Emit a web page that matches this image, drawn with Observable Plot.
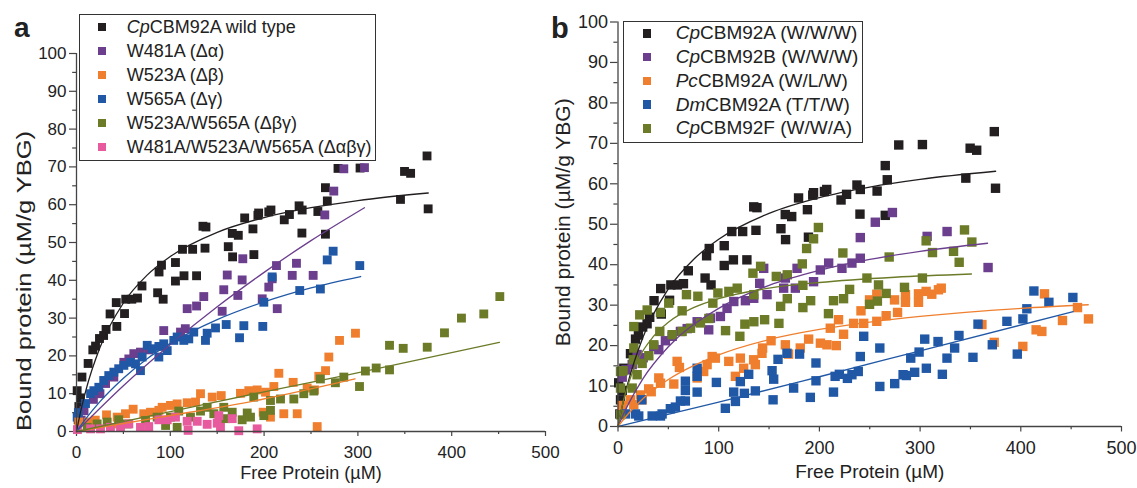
<!DOCTYPE html>
<html><head><meta charset="utf-8">
<script src="https://cdn.jsdelivr.net/npm/d3@7"></script>
<script src="https://cdn.jsdelivr.net/npm/@observablehq/plot@0.6"></script>
<style>
html,body{margin:0;padding:0;background:#fff;}
#page{position:relative;width:1137px;height:488px;overflow:hidden;font-family:"Liberation Sans",Arial,Helvetica,sans-serif;color:#222;}
.pn{position:absolute;top:0;}
.lg{position:absolute;border:1px solid #333;box-sizing:border-box;background:#fff;}
.row{position:absolute;white-space:nowrap;}
.sw{position:absolute;}
.letter{position:absolute;font-weight:bold;line-height:1;}
</style></head><body>
<div id="page"></div>
<script>
// ---------- data ----------
const xTicks = [0,100,200,300,400,500];
const xMinor = [50,150,250,350,450];
const yTicks = [0,10,20,30,40,50,60,70,80,90,100];
const yMinor = [5,15,25,35,45,55,65,75,85,95];
const labelX = "Free Protein (µM)";
const labelY = "Bound protein (µM/g YBG)";

// CpCBM92A wild type (W/W/W) – same data in both panels
const cpA = [[0.7,10.8],[1.8,3.1],[2.5,6.6],[4.2,8.9],[5.8,14.4],[12.4,18],[17.4,21.6],[20.3,22.6],[24.5,24.6],[28.9,25.4],[31.5,27],[35.8,31.1],[42.4,34.1],[43,27.8],[51.2,31.2],[52.5,35],[59,35],[65,35.3],[69.8,38.5],[86.5,36.7],[88,42.2],[90.6,44],[92.4,35],[105.5,39.8],[105.5,44.7],[114.6,41.2],[113,48.2],[123.8,48.2],[128,41.2],[134.8,54.3],[138,54.1],[137,48.5],[161.8,48.9],[166.1,52.4],[166.4,46.2],[172.5,51.9],[179.3,56.5],[188.1,53.6],[189.1,46.8],[193.4,57.2],[194.2,57.8],[205,58.1],[207.3,58.6],[221.5,56],[227,57.4],[237.3,59.7],[240.3,52.5],[240.6,58.6],[257.3,58.2],[265.4,64.5],[265.4,52.2],[267.4,61],[278.8,69.6],[302.3,69.7],[345.4,61.4],[349.7,68.8],[356.2,68.3],[373.7,72.9],[374.9,58.9]];
const w481A = [[5,3],[8,5.5],[18,8.5],[25,10],[31,12.7],[39.8,14.4],[50.5,18.3],[55.8,19.2],[61.1,20.6],[68.2,21],[77.1,21.6],[93,26.7],[110.9,26.3],[116,27.2],[118,32.5],[128,33.2],[135.7,35.7],[155.3,31.8],[157,37.5],[160.7,41.4],[172,36],[176.6,40.1],[177.3,45.7],[198,35.1],[205,38.2],[208.6,40.4],[213.2,43.9],[214,32.5],[230,41.3],[234.5,44.5],[252.3,41.3],[264.7,57.3],[274.3,63.6],[285,69.5],[307,69.8]];
const w565A = [[0.7,3.8],[2,5],[9.6,7.4],[15,10],[18.5,10.8],[23.8,11.7],[29,13.5],[34.4,14.8],[39.8,15.7],[45,16.6],[50.5,17.5],[57.6,18.3],[62.9,17.9],[68.2,16.1],[70,19.7],[75.4,22.8],[80.7,21.9],[87.8,19.7],[87.8,22.5],[93,23.2],[96.7,21.4],[103.7,24.1],[107.3,25],[114.4,24.1],[119.7,24.5],[125,26.3],[137.5,24.1],[139.3,26],[148.2,27.4],[159.6,28.3],[173.8,24.8],[178.4,28],[198.6,27.8],[199.7,34.2],[208.6,40.9],[238,37.3],[260,37.7],[267.3,45.4],[273.6,47.7],[302,43.9]];
const w523A = [[2.5,2.5],[13,2.5],[15,1.5],[20,3],[32,4.4],[43.4,3.8],[45,2],[52.2,4.7],[60.4,5.9],[71.7,4.7],[78.9,5.1],[87.8,5.6],[91.3,6.4],[100.2,6.9],[107.3,7.3],[118,7.6],[126.9,7.8],[132.2,10],[144.7,9.1],[154.3,9.5],[174.8,10.1],[183.7,10.8],[192.6,11],[199,5.1],[201.5,10.4],[206.8,3.8],[210.4,11.9],[215.7,15.4],[221,4.7],[231,13],[235.3,4.7],[245.9,11.5],[253.7,11],[256.6,1.3],[258.3,14.6],[265.5,16.1],[269,19.7],[280.4,24.1],[297.4,26]];
const w523w565A = [[11.4,1.1],[22,2],[32.7,2.5],[45,3.1],[54,2],[73.6,2.9],[86,3.8],[95,1.6],[100.2,3.8],[107.3,1.1],[109,5.4],[121.5,3.8],[132.2,5.4],[139.3,6.4],[146.4,4.7],[157,6.4],[158.8,3.4],[166,5.1],[176.6,3.1],[182,4.9],[185.5,3.8],[189,9.1],[199.7,4.2],[206.8,5.6],[206.8,8.2],[217.5,8.6],[231.7,8.6],[242.3,10],[253,10.7],[260,13.9],[276,12.9],[285,14.4],[301.7,11.9],[308,16],[319.5,16.8],[333.7,16.3],[333.7,22.8],[348.3,22],[373.9,22.3],[392.3,26.1],[410.4,30],[434.2,31.1],[451.3,35.7]];
const triple = [[1,0.5],[15,0.7],[25.6,0.7],[36.2,1.1],[46.9,1.3],[55.8,2],[68.2,1.1],[77,1.3],[87.8,3.1],[96.7,3.1],[105.5,3.8],[118,2.7],[119,0.3],[128.7,2.7],[139.3,1.9],[150,2.2],[151.7,4.2],[153.5,1.1],[166,3.4],[173,0.2],[192.6,0.7]];

const cpB = [[4.2,12.2],[8,14],[14.1,15.3],[19,17.8],[25,17],[35.5,19.8],[40.5,19],[47.1,21.2],[53.8,22.3],[62,23.5],[68.7,24.2],[78.6,25.9],[90.1,23.9],[91.8,26.8],[101.7,27.2],[108.3,29.2],[115,30.9],[126.5,31.1],[134.8,31.7],[140.7,35.4],[144.7,39.1],[148,32.6],[164.5,34.2],[166.2,36.7],[176.1,34.2],[177.8,39.1],[194.2,35.8],[200.9,38.7],[209.2,40.4],[222.4,39.1],[232.3,40.4],[240.6,41.6],[240.6,46.7],[255.5,50.5],[272.5,52.9],[307,47],[326.8,48.2],[367.5,39.3]];
const pcA = [[4.2,5.2],[12.4,6.6],[15.7,5.4],[22.3,7.8],[24,6.6],[30.5,9.3],[33,8.6],[40.5,12],[42.2,10.7],[55.4,10.5],[58.7,16.1],[61,14.6],[78.6,12],[85.1,13.6],[88.5,15.3],[93.5,17.3],[96.7,16.9],[110,16.1],[116.6,12.4],[121.5,16.9],[124.8,14.4],[134.7,16.5],[136.4,15.3],[143,18.1],[143.6,19.4],[152,21.2],[166.2,20.2],[169.4,17.9],[181,19.4],[189.3,21.6],[201,20.6],[207.5,20.2],[210.8,24.3],[216.8,20],[219,26.4],[224,22.8],[234,25.5],[241.3,28.6],[244,25.5],[249.8,31.3],[257,26],[257,32.7],[266.3,27.4],[274.6,31.3],[277.6,28.2],[285.5,32.6],[285.5,30.7],[298.4,32.8],[298.4,30.7],[306,33.4],[311.6,32.7],[318.2,33.8],[321,34.2],[361.4,25.2],[373.6,20.8],[402,19.8],[415.2,23.9],[420.9,23.5],[423.5,32.8],[441.4,26.2],[456.3,29.4],[467.2,26.6]];
const dmA = [[7.4,3.1],[17.4,3.1],[20.6,2.6],[23.5,6.6],[33.9,2.6],[42.2,2.6],[43.8,3.1],[52,4.4],[57,4.8],[62,6.3],[66.9,6.3],[66.9,8.9],[66.9,11.2],[78.6,12.4],[78.6,8.5],[78.6,14.4],[97.7,10.9],[106.6,4.5],[114.9,8.5],[116.6,6.2],[121.5,11.1],[125.5,8.2],[129.8,12.9],[136.4,8.8],[153,13.8],[154,6.6],[154.6,11.7],[158.9,16.6],[167.8,18.1],[174.4,9.5],[180.3,17.9],[191,7.2],[196.6,15.7],[196.6,11.3],[214,8.5],[215.6,12.4],[219.8,12.9],[227.8,11.9],[232.3,12.8],[238.6,13.6],[240.6,17.3],[244,22.3],[260,19.4],[260,9.9],[274.8,10.6],[283.1,12.8],[286.4,12.6],[290.7,16.9],[294.6,13.4],[299,18.4],[304.6,21.6],[306.2,14.4],[317.8,21],[322.1,12.9],[326.7,16.9],[334.3,19.4],[338.6,22.5],[352.5,17.1],[357.5,25.3],[371.7,20.2],[386.2,26],[396.5,17.9],[402.1,26.6],[406,29.1],[413,33.5],[427.9,30.7],[451.7,31.9]];
const cpF = [[2.5,2.9],[2.5,9.5],[2.5,13.6],[5.1,13.8],[14.1,9.5],[15.7,19.4],[15.2,16.5],[15.7,24.7],[19,12.8],[21.6,27.6],[24,15.6],[29,28.8],[30.6,17.5],[35.5,20.2],[41.5,23.5],[42.2,28.2],[50.4,30.5],[53.8,22.7],[63.7,28.6],[63.7,23.5],[68,32.6],[72,24.3],[79.3,32.2],[81.9,25.6],[90.2,26.7],[94.2,30.5],[99.2,33],[106.8,23.7],[110.1,33.4],[118.4,34.2],[121,22.3],[126,25.3],[134,37.9],[134.9,25.9],[134.9,32.6],[141.6,39.6],[145.6,26.4],[157.2,37.1],[159.8,25.5],[161.5,29.7],[168.1,37.5],[168.1,31.6],[183,40.2],[183.6,34.9],[183.6,29.4],[187.3,44],[191.3,31.1],[194.2,46.4],[199,49.2],[209,27.9],[214,31.1],[223.3,42.9],[224,31.6],[230,33.9],[247.2,36.7],[249.8,30.2],[257.6,31],[258.7,35],[266.3,32.9],[269.3,41.9],[284.5,34.4],[302.3,36.7],[306,45.9],[312.3,43],[333.2,43.3],[338.8,40.6],[344.1,48.6],[351.4,45.6]];

// fitted curves
const fitCpA = [[0,0],[5,5.9],[10,10.9],[25,22.2],[50,34.0],[75,41.3],[100,46.3],[150,52.7],[200,56.6],[250,59.2],[300,61.1],[375,63.1]];
const fitW481A = [[0,0],[50,12.1],[100,23.0],[150,33.0],[200,42.1],[250,50.5],[307,59.2]];
const fitW565A = [[0,0],[10,3.4],[25,7.9],[50,14.1],[75,19.2],[100,23.3],[150,29.6],[200,34.3],[250,38.0],[303,41]];
const fitW523A = [[0,0],[90,3.8],[196,8.4],[297,13.9]];
const fitW523w565A = [[0,0],[90,4.7],[200,10.5],[292,15.1],[451,23.6]];
const fitCpB = [[0,0],[10,5.4],[25,11.9],[50,19.7],[100,29.2],[150,34.9],[200,38.6],[250,41.3],[300,43.3],[367,45.3]];
const fitPcA = [[0,0],[10,3.1],[25,6.9],[50,11.6],[100,17.7],[150,21.5],[200,24.0],[250,25.8],[300,27.2],[400,29.2],[467,30.1]];
const fitDmA = [[0,0],[100,6.0],[200,12.3],[300,18.7],[452,28.4]];
const fitCpF = [[0,0],[5,6.0],[10,10.4],[20,16.6],[35,22.2],[50,25.8],[75,29.4],[100,31.6],[150,34.2],[200,35.6],[275,36.9],[351,37.7]];

const namesA = [["Cp","CBM92A wild type"],["","W481A (Δα)"],["","W523A (Δβ)"],["","W565A (Δγ)"],["","W523A/W565A (Δβγ)"],["","W481A/W523A/W565A (Δαβγ)"]];
const namesB = [["Cp","CBM92A (W/W/W)"],["Cp","CBM92B (W/W/W)"],["Pc","CBM92A (W/L/W)"],["Dm","CBM92A (T/T/W)"],["Cp","CBM92F (W/W/A)"]];

const C = {black:"#231f20", purple:"#6b3e8e", orange:"#ef7f2e", blue:"#2158a6", green:"#6b7b28", pink:"#e75a9d"};

// series in drawing order: [points, fit, colour]
const seriesA = [[cpA,fitCpA,C.black],[w481A,fitW481A,C.purple],[w565A,fitW565A,C.blue],[w523A,fitW523A,C.orange],[w523w565A,fitW523w565A,C.green],[triple,null,C.pink]];
const legendColsA = [C.black,C.purple,C.orange,C.blue,C.green,C.pink];
const seriesB = [[cpA,fitCpA,C.black],[cpB,fitCpB,C.purple],[pcA,fitPcA,C.orange],[dmA,fitDmA,C.blue],[cpF,fitCpF,C.green]];
const legendColsB = [C.black,C.purple,C.orange,C.blue,C.green];

const font = "Liberation Sans, Arial, Helvetica, sans-serif";
const axisCol = "#444";

function panel(cfg) {
  const marks = [];
  for (const [pts, fit, col] of cfg.series) {
    marks.push(Plot.dot(pts, {x: d => d[0], y: d => d[1], symbol: "square", r: cfg.r, fill: col, stroke: "none"}));
  }
  for (const [pts, fit, col] of cfg.series) {
    if (fit) marks.push(Plot.line(fit, {x: d => d[0], y: d => d[1], stroke: col, strokeWidth: 1.3, curve: "monotone-x"}));
  }
  return Plot.plot({
    width: cfg.width, height: 488,
    marginLeft: cfg.ml, marginRight: cfg.mr, marginTop: cfg.mt, marginBottom: cfg.mb,
    x: {domain: [0, 500]}, y: {domain: [0, 100]},
    style: {fontFamily: font, color: "#222", background: "transparent", overflow: "visible"},
    marks: [
      Plot.axisX({ticks: xTicks, tickSize: cfg.tsx, tickPadding: cfg.tpx, fontSize: cfg.tfs, stroke: axisCol, strokeWidth: 1.2, label: null}),
      Plot.axisX({ticks: xMinor, tickSize: cfg.tsx * 0.6, tickFormat: () => "", stroke: axisCol, strokeWidth: 1.2, label: null}),
      Plot.axisY({ticks: yTicks, tickSize: cfg.tsy, tickPadding: cfg.tpy, fontSize: cfg.tfs, stroke: axisCol, strokeWidth: 1.2, label: null}),
      Plot.axisY({ticks: yMinor, tickSize: cfg.tsy * 0.55, tickFormat: () => "", stroke: axisCol, strokeWidth: 1.2, label: null}),
      ...marks,
      Plot.ruleY([0], {stroke: axisCol, strokeWidth: 1.3}),
      Plot.ruleX([0], {stroke: axisCol, strokeWidth: 1.3}),
      Plot.text([labelX], {text: d => d, frameAnchor: "bottom", lineAnchor: "bottom", dy: cfg.xdy, fontSize: cfg.lfs, fill: "#222"}),
      Plot.text([labelY], {text: d => d, frameAnchor: "left", textAnchor: "start", rotate: -90, dx: cfg.ydx, dy: cfg.ydy, fontSize: cfg.yfs, fill: "#222"})
    ]
  });
}

const page = document.getElementById("page");

function place(svg, left, ylen) {
  const d = document.createElement("div");
  d.className = "pn"; d.style.left = left + "px";
  d.appendChild(svg); page.appendChild(d);
  d3.select(svg).selectAll("text").filter(function(){ return this.textContent === labelY; })
    .attr("textLength", ylen).attr("lengthAdjust", "spacingAndGlyphs");
}

const svgA = panel({series: seriesA, width: 560, ml: 76, mr: 15, mt: 53, mb: 57, r: 5.0,
  tsx: 5, tpx: 9, tsy: 7, tpy: 3, tfs: 17, lfs: 18, xdy: 47, ydx: -52, ydy: 188.5, yfs: 20});
place(svgA, 0, 300);
const svgB = panel({series: seriesB, width: 577, ml: 57.5, mr: 16, mt: 21.5, mb: 62, r: 5.3,
  tsx: 5.5, tpx: 9.5, tsy: 7.5, tpy: 2.5, tfs: 18, lfs: 19, xdy: 51, ydx: -54.5, ydy: 122, yfs: 19.5});
place(svgB, 560, 248);

function legend(names, cols, box, rowY0, rowH, swX, sw, txX, fs) {
  const b = document.createElement("div");
  b.className = "lg";
  b.style.left = box[0] + "px"; b.style.top = box[1] + "px";
  b.style.width = (box[2] - box[0]) + "px"; b.style.height = (box[3] - box[1]) + "px";
  page.appendChild(b);
  names.forEach((n, i) => {
    const cy = rowY0 + i * rowH;
    const s = document.createElement("div");
    s.className = "sw";
    s.style.left = (swX - sw / 2) + "px"; s.style.top = (cy - sw / 2) + "px";
    s.style.width = sw + "px"; s.style.height = sw + "px"; s.style.background = cols[i];
    page.appendChild(s);
    const t = document.createElement("div");
    t.className = "row";
    t.style.left = txX + "px"; t.style.top = (cy - 12) + "px";
    t.style.height = "24px"; t.style.lineHeight = "24px"; t.style.fontSize = fs + "px";
    if (n[0]) { const it = document.createElement("i"); it.textContent = n[0]; t.appendChild(it); }
    t.appendChild(document.createTextNode(n[1]));
    page.appendChild(t);
  });
}
legend(namesA, legendColsA, [79, 14, 376, 161], 27, 24, 101.7, 8, 126.7, 18);
legend(namesB, legendColsB, [623, 21, 863, 143], 33.3, 23.75, 647, 8.5, 675.7, 19);

function letter(ch, left, baseline, fs) {
  const l = document.createElement("div");
  l.className = "letter"; l.textContent = ch;
  l.style.fontSize = fs + "px"; l.style.left = left + "px";
  l.style.top = (baseline - fs * 0.905) + "px";
  page.appendChild(l);
}
letter("a", 14, 39.5, 28);
letter("b", 551, 40.5, 29);
</script>
</body></html>
